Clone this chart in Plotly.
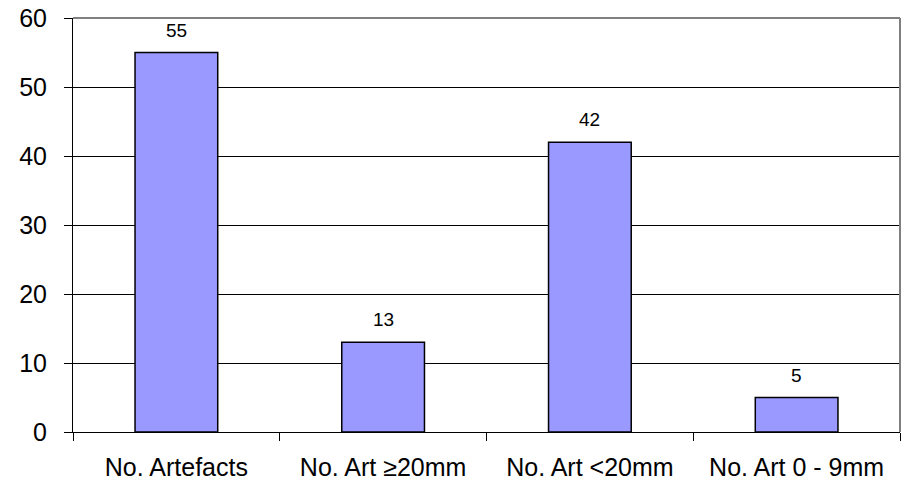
import plotly.graph_objects as go

categories = ["No. Artefacts", "No. Art ≥20mm", "No. Art <20mm", "No. Art 0 - 9mm"]
values = [55, 13, 42, 5]
y_ticks = [0, 10, 20, 30, 40, 50, 60]

FONT = "Liberation Sans, Arial, sans-serif"

fig = go.Figure()
fig.add_trace(go.Bar(
    x=categories, y=values,
    marker=dict(color="#9999FF", line=dict(color="#000000", width=1.5)),
    width=0.4,
    hoverinfo="skip",
))

for c, v in zip(categories, values):
    fig.add_annotation(x=c, y=v, text=str(v), showarrow=False,
                       yanchor="bottom", yshift=10,
                       font=dict(family=FONT, size=19, color="#000000"))

fig.update_layout(
    width=908, height=480,
    margin=dict(l=73, r=8, t=18, b=48),
    paper_bgcolor="white", plot_bgcolor="white",
    showlegend=False,
    font=dict(family=FONT, color="#000000"),
    xaxis=dict(
        type="category", range=[-0.5, 3.5], automargin=False,
        showgrid=False, zeroline=False,
        showline=True, linecolor="#000000", linewidth=1,
        ticks="outside", tickson="boundaries", ticklen=8, tickcolor="#000000", tickwidth=1,
        tickfont=dict(family=FONT, size=25, color="#000000"),
        ticklabelstandoff=13, ticklabeloverflow="allow",
    ),
    yaxis=dict(
        range=[0, 60], tickvals=y_ticks, automargin=False,
        showgrid=True, gridcolor="#000000", gridwidth=1,
        zeroline=False,
        showline=True, linecolor="#000000", linewidth=1,
        ticks="outside", ticklen=8, tickcolor="#000000", tickwidth=1,
        tickfont=dict(family=FONT, size=25, color="#000000"),
        ticklabelstandoff=12, ticklabeloverflow="allow",
    ),
    shapes=[
        dict(type="line", xref="paper", yref="paper", x0=0, x1=1, y0=1, y1=1,
             line=dict(color="#808080", width=2)),
        dict(type="line", xref="paper", yref="paper", x0=1, x1=1, y0=0, y1=1,
             line=dict(color="#808080", width=2)),
    ],
)

fig.write_html("out.html", config={"displayModeBar": False},
               post_script="document.body.style.margin='0';")
